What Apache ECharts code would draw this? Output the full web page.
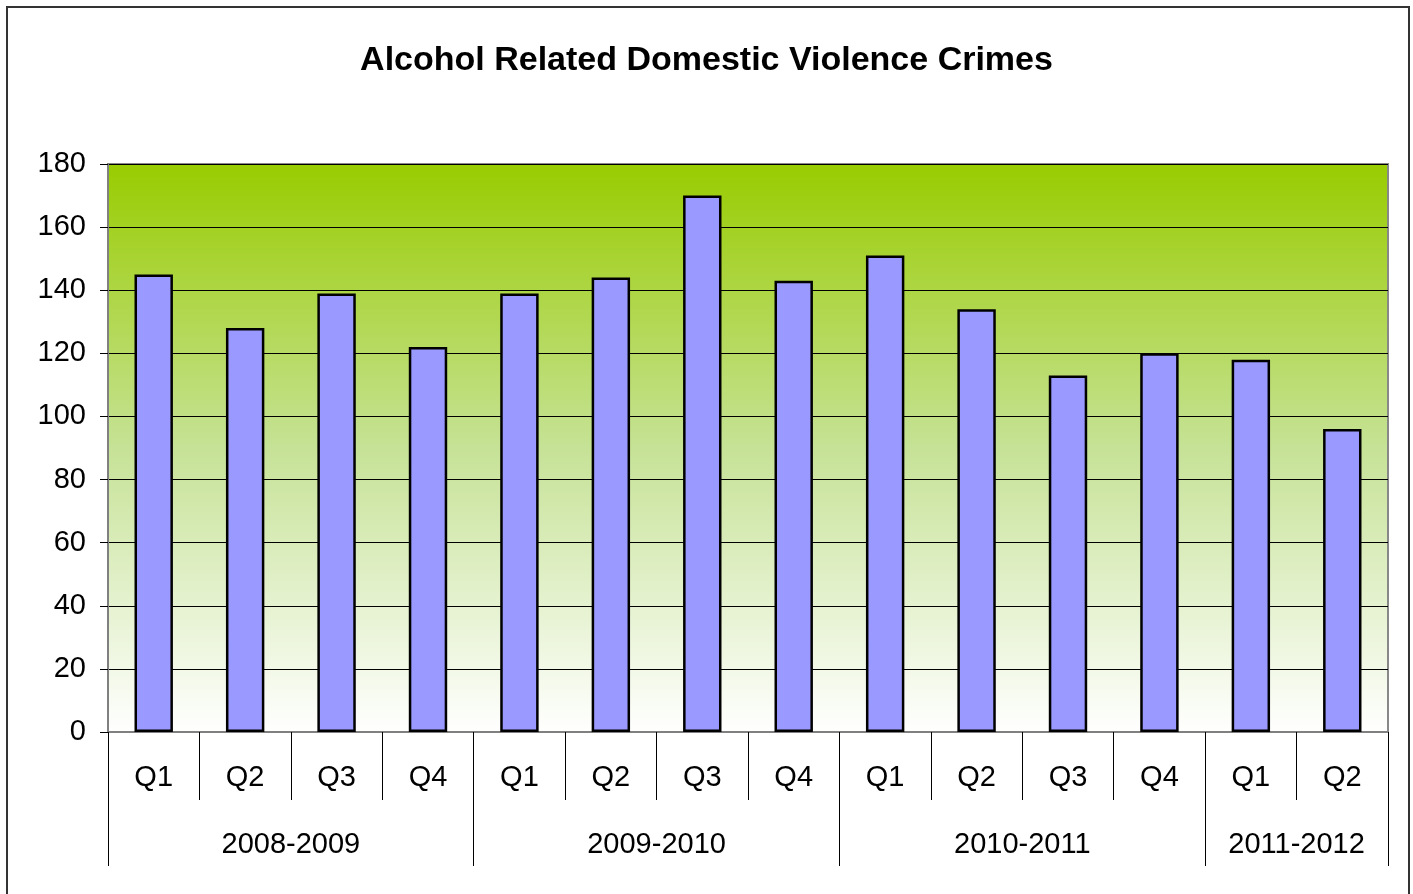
<!DOCTYPE html>
<html>
<head>
<meta charset="utf-8">
<script src="https://cdn.jsdelivr.net/npm/echarts@6/dist/echarts.min.js"></script>
<style>
  html, body { margin: 0; padding: 0; background: #fff; }
  #container_chart { width: 1413px; height: 894px; }
</style>
</head>
<body>
<div id="container_chart"></div>
<script>
var quarters = ['Q1', 'Q2', 'Q3', 'Q4', 'Q1', 'Q2', 'Q3', 'Q4', 'Q1', 'Q2', 'Q3', 'Q4', 'Q1', 'Q2'];
var crimes = [145, 128, 139, 122, 139, 144, 170, 143, 151, 134, 113, 120, 118, 96];
var years = ['2008-2009', '2009-2010', '2010-2011', '2011-2012'];
var yearSpans = [4, 4, 4, 2];
var yTicks = [0, 20, 40, 60, 80, 100, 120, 140, 160, 180];

var chart = echarts.init(document.getElementById("container_chart"));

// boundaries and centres of the year groups, in category units
var yearEdges = [0];
var yearMids = [];
yearSpans.forEach(function (n, i) {
    var start = yearEdges[i];
    yearEdges.push(start + n);
    yearMids.push(start + n / 2);
});

var font = 'Liberation Sans, Arial, sans-serif';

var option = {
    animation: false,
    backgroundColor: '#fff',
    title: {
        text: 'Alcohol Related Domestic Violence Crimes',
        left: 'center',
        top: 39,
        textStyle: {
            fontFamily: font,
            fontWeight: 'bold',
            fontSize: 34,
            color: '#000'
        }
    },
    graphic: [{
        type: 'rect',
        shape: { x: 7, y: 7, width: 1402, height: 900 },
        style: { fill: 'none', stroke: '#333', lineWidth: 2 },
        z: 100
    }],
    grid: {
        left: 108,
        right: 25,
        top: 164,
        bottom: 162,
        show: true,
        borderColor: '#888',
        borderWidth: 2,
        backgroundColor: new echarts.graphic.LinearGradient(0, 0, 0, 1, [
            { offset: 0, color: '#99cc00' },
            { offset: 0.5, color: '#c6e296' },
            { offset: 1, color: '#ffffff' }
        ])
    },
    xAxis: [{
        type: 'category',
        data: quarters,
        position: 'bottom',
        axisLine: { lineStyle: { color: '#808080', width: 2 } },
        axisTick: { show: true, length: 68, lineStyle: { color: '#000', width: 1 } },
        axisLabel: {
            fontFamily: font,
            fontSize: 29,
            color: '#000',
            margin: 31
        }
    }, {
        type: 'value',
        min: 0,
        max: quarters.length,
        position: 'bottom',
        axisLine: { show: false },
        splitLine: { show: false },
        axisTick: {
            show: true,
            length: 134,
            customValues: yearEdges,
            lineStyle: { color: '#000', width: 1 }
        },
        axisLabel: {
            fontFamily: font,
            fontSize: 29,
            color: '#000',
            margin: 98,
            customValues: yearMids,
            formatter: function (v) {
                var i = yearMids.indexOf(v);
                return i >= 0 ? years[i] : '';
            }
        }
    }],
    yAxis: {
        type: 'value',
        min: yTicks[0],
        max: yTicks[yTicks.length - 1],
        interval: 20,
        axisLine: { show: true, lineStyle: { color: '#808080', width: 2 } },
        axisTick: { show: true, length: 8, lineStyle: { color: '#000' } },
        axisLabel: {
            fontFamily: font,
            fontSize: 29,
            color: '#000',
            margin: 22
        },
        splitLine: { show: true, lineStyle: { color: '#000', width: 1 } }
    },
    series: [{
        type: 'bar',
        xAxisIndex: 0,
        data: crimes,
        barWidth: '42%',
        itemStyle: {
            color: '#9999ff',
            borderColor: '#000',
            borderWidth: 2.5
        }
    }]
};

chart.setOption(option);
</script>
</body>
</html>
